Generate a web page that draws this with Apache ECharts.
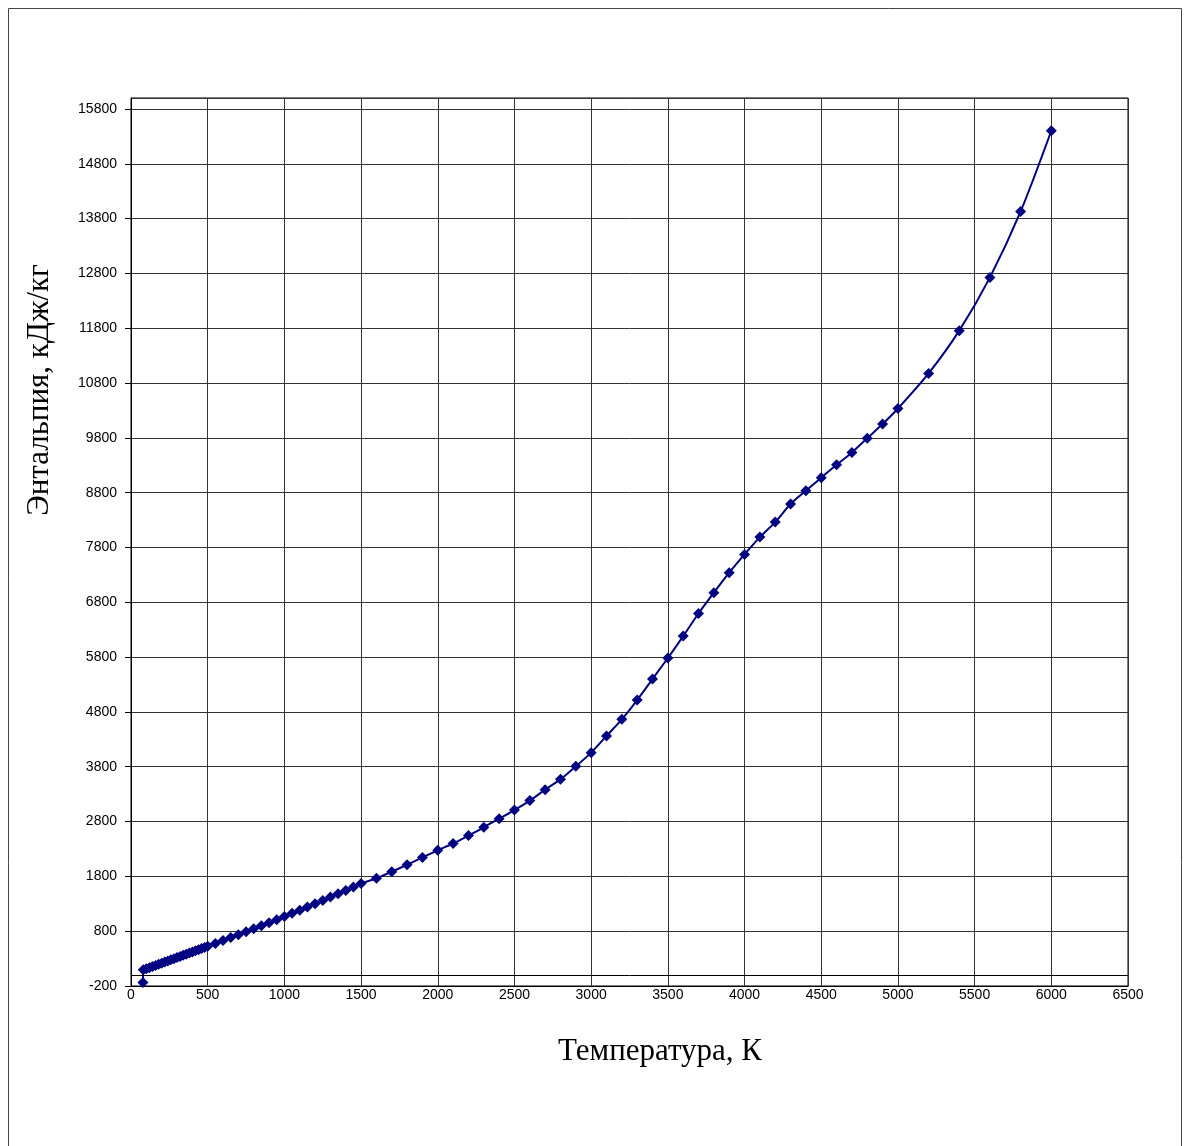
<!DOCTYPE html>
<html>
<head>
<meta charset="utf-8">
<script src="https://cdn.jsdelivr.net/npm/echarts@6/dist/echarts.min.js"></script>
<style>
html,body{margin:0;padding:0;background:#fff;}
#chart{width:1184px;height:1146px;}
</style>
</head>
<body>
<div id="chart"></div>
<script>
// Temperature, K
const temperatures = [
  78, 80, 100, 120, 140, 160, 180, 200, 220, 240, 260, 280, 300, 320, 340, 360, 380, 400, 420, 440, 460, 480,
  500, 550, 600, 650, 700, 750, 800, 850, 900, 950, 1000, 1050, 1100, 1150, 1200, 1250, 1300, 1350, 1400, 1450, 1500,
  1600, 1700, 1800, 1900, 2000, 2100, 2200, 2300, 2400, 2500, 2600, 2700, 2800, 2900, 3000,
  3100, 3200, 3300, 3400, 3500, 3600, 3700, 3800, 3900, 4000, 4100, 4200, 4300, 4400, 4500,
  4600, 4700, 4800, 4900, 5000, 5200, 5400, 5600, 5800, 6000
];
// Enthalpy, kJ/kg
const enthalpy = [
  -135, 95, 115, 135, 156, 176, 197, 217, 238, 258, 279, 299, 320, 340, 361, 381, 402, 422, 443, 463, 484, 504,
  525, 577, 630, 683, 736, 790, 844, 899, 954, 1009, 1068, 1126, 1184, 1243, 1302, 1362, 1422, 1483, 1544, 1606, 1668,
  1765, 1885, 2012, 2145, 2275, 2400, 2545, 2695, 2853, 3010, 3182, 3382, 3570, 3807, 4057,
  4362, 4665, 5017, 5400, 5783, 6184, 6595, 6975, 7340, 7674, 7990, 8263, 8592, 8836, 9073,
  9310, 9534, 9795, 10051, 10335, 10976, 11756, 12727, 13930, 15402
];
const xTitle = 'Температура, К';
const yTitle = 'Энтальпия, кДж/кг';

const data = temperatures.map((t, i) => [t, enthalpy[i]]);

const chart = echarts.init(document.getElementById('chart'), null, {renderer: 'canvas'});
chart.setOption({
  animation: false,
  backgroundColor: '#fff',
  graphic: [{
    type: 'rect',
    shape: {x: 8.5, y: 8.5, width: 1173, height: 1160},
    style: {fill: 'none', stroke: '#444', lineWidth: 1},
    silent: true
  }, {
    type: 'text',
    x: 660, y: 1052,
    style: {text: xTitle, font: '31px "Liberation Serif"', fill: '#000', textAlign: 'center', textVerticalAlign: 'middle'},
    silent: true
  }, {
    type: 'text',
    x: 40, y: 390,
    rotation: Math.PI / 2,
    style: {text: yTitle, font: '31px "Liberation Serif"', fill: '#000', textAlign: 'center', textVerticalAlign: 'middle'},
    silent: true
  }],
  grid: {left: 131, top: 98, right: 56, bottom: 160, show: true, borderColor: '#000', borderWidth: 1},
  xAxis: {
    type: 'value', min: 0, max: 6500, interval: 500,
    axisLine: {onZero: false, lineStyle: {color: '#000'}},
    axisTick: {show: false},
    axisLabel: {color: '#000', fontFamily: 'Liberation Sans', fontSize: 14, margin: 2, formatter: v => String(v)},
    splitLine: {show: true, lineStyle: {color: '#333', width: 1}}
  },
  yAxis: {
    type: 'value', min: -200, max: 16000, interval: 1000,
    axisLine: {show: true, lineStyle: {color: '#000'}},
    axisTick: {show: true, inside: false, length: 6, lineStyle: {color: '#000'}},
    axisLabel: {color: '#000', fontFamily: 'Liberation Sans', fontSize: 14, margin: 14, showMaxLabel: false, formatter: v => String(v)},
    splitLine: {show: true, lineStyle: {color: '#333', width: 1}}
  },
  series: [{
    type: 'line',
    data: data,
    smooth: 0.3,
    symbol: 'diamond',
    symbolSize: 11,
    lineStyle: {color: '#000080', width: 2},
    itemStyle: {color: '#000080'},
    markLine: {
      silent: true,
      symbol: ['none', 'none'],
      label: {show: false},
      lineStyle: {color: '#000', type: 'solid', width: 1},
      data: [{yAxis: 0}]
    }
  }]
});
</script>
</body>
</html>
